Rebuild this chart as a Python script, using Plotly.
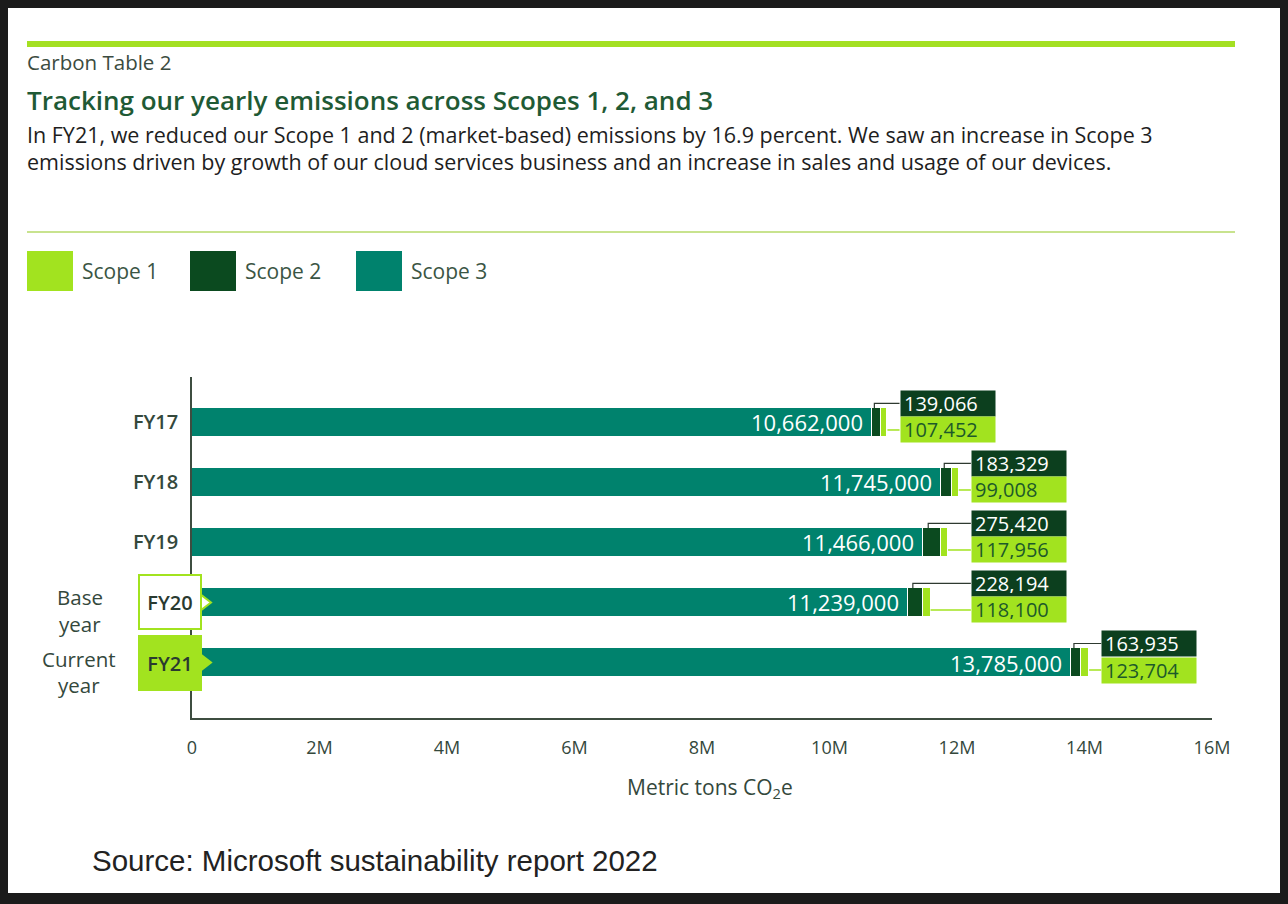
import plotly.graph_objects as go

# ---------------- data ----------------
years = ["FY17", "FY18", "FY19", "FY20", "FY21"]
scope1 = [107452, 99008, 117956, 118100, 123704]
scope2 = [139066, 183329, 275420, 228194, 163935]
scope3 = [10662000, 11745000, 11466000, 11239000, 13785000]
x_tick_vals = [0, 2e6, 4e6, 6e6, 8e6, 10e6, 12e6, 14e6, 16e6]
x_tick_text = ["0", "2M", "4M", "6M", "8M", "10M", "12M", "14M", "16M"]
legend_names = ["Scope 1", "Scope 2", "Scope 3"]

# ---------------- styling ----------------
W, H = 1288, 904
L, R, T, B = 192, 76, 377, 186
PW, PH = W - L - R, H - T - B
C1, C2, C3 = "#a2e31f", "#0b4a1f", "#00826d"
TXT = "#34483c"
FONT = "Open Sans"


def px(x):
    return (x - L) / PW


def py(y):
    return (H - B - y) / PH


rows = list(range(len(years)))
totals = [a + b + c for a, b, c in zip(scope1, scope2, scope3)]

# label x positions: rows whose totals are close share an aligned label column
GAP = 0.19e6
label_x = [0] * len(rows)
groups, cur = [], [0]
for i in rows[1:]:
    if abs(totals[i] - totals[i - 1]) < 0.5e6:
        cur.append(i)
    else:
        groups.append(cur)
        cur = [i]
groups.append(cur)
for g in groups:
    m = max(totals[i] for i in g) + GAP
    for i in g:
        label_x[i] = m

BAR_W = 0.483
UP = 0.317   # offset of scope-2 label centre above row centre
DN = 0.125   # offset of scope-1 label centre below row centre

fig = go.Figure()
for name, vals, col in [("Scope 3", scope3, C3), ("Scope 2", scope2, C2), ("Scope 1", scope1, C1)]:
    fig.add_trace(go.Bar(
        y=rows, x=vals, orientation="h", name=name, width=BAR_W,
        marker=dict(color=col, line=dict(color="white", width=1.2)),
        hoverinfo="x+name", showlegend=False,
    ))

# connectors
for i in rows:
    xv = scope3[i] + 0.3 * scope2[i]
    fig.add_trace(go.Scatter(
        x=[xv, xv, label_x[i]], y=[i - BAR_W / 2, i - UP, i - UP], mode="lines",
        line=dict(color="#2e3a30", width=1.2), showlegend=False, hoverinfo="skip",
    ))
    fig.add_trace(go.Scatter(
        x=[totals[i], label_x[i]], y=[i + DN, i + DN], mode="lines",
        line=dict(color=C1, width=1.5), showlegend=False, hoverinfo="skip",
    ))

# chevrons for base/current year
chev_x = 10 / PW * 16e6
fig.add_trace(go.Scatter(
    x=[chev_x, chev_x], y=[3, 4], mode="markers", cliponaxis=False,
    marker=dict(symbol="triangle-right", size=18, color=["white", C1],
                line=dict(color=C1, width=2)),
    showlegend=False, hoverinfo="skip",
))

ann = []
shapes = []

# page background
shapes.append(dict(type="rect", xref="paper", yref="paper", x0=px(8), x1=px(1280),
                   y0=py(893), y1=py(8), fillcolor="white", line=dict(width=0), layer="below"))
# header lines
shapes.append(dict(type="rect", xref="paper", yref="paper", x0=px(27), x1=px(1235),
                   y0=py(47), y1=py(41), fillcolor="#a4e022", line=dict(width=0)))
shapes.append(dict(type="line", xref="paper", yref="paper", x0=px(27), x1=px(1235),
                   y0=py(232), y1=py(232), line=dict(color="#c8e38e", width=2)))


def text(x, y, s, size, color=TXT, family=FONT, xanchor="left", weight=None):
    f = dict(family=family, size=size, color=color)
    if weight:
        f["weight"] = weight
    ann.append(dict(xref="paper", yref="paper", x=px(x), y=py(y), text=s, showarrow=False,
                    xanchor=xanchor, yanchor="middle", font=f))


text(25, 62, "Carbon Table 2", 20.5, "#3b4b40")
text(25, 100, "Tracking our yearly emissions across Scopes 1, 2, and 3", 26, "#1f5a35", weight=600)
text(25, 134, "In FY21, we reduced our Scope 1 and 2 (market-based) emissions by 16.9 percent. "
              "We saw an increase in Scope 3", 21.5, "#1e1e1e")
text(25, 162, "emissions driven by growth of our cloud services business and an increase "
              "in sales and usage of our devices.", 21.5, "#1e1e1e")

# legend
for (x0, name, col) in zip([27, 190, 356], legend_names, [C1, C2, C3]):
    shapes.append(dict(type="rect", xref="paper", yref="paper", x0=px(x0), x1=px(x0 + 46),
                       y0=py(291), y1=py(251), fillcolor=col, line=dict(width=0)))
    text(x0 + 53, 271, name, 21, "#3a5544")

# row side labels
text(80, 597, "Base", 20.5, TXT, xanchor="center")
text(80, 624, "year", 20.5, TXT, xanchor="center")
text(79, 659, "Current", 20.5, TXT, xanchor="center")
text(79, 685, "year", 20.5, TXT, xanchor="center")

# axis title
text(710, 788, "Metric tons CO<sub>2</sub>e", 21, TXT, xanchor="center")
# source
text(90, 860, "Source: Microsoft sustainability report 2022", 29.5, "#222222", family="Liberation Sans")

# boxed FY20 / FY21 labels
for i, bg in [(3, "white"), (4, C1)]:
    ann.append(dict(xref="x", yref="y", x=0, y=i, xanchor="right", yanchor="middle", xshift=10,
                    text=years[i], showarrow=False, bgcolor=bg, bordercolor=C1, borderwidth=2,
                    borderpad=2, width=56, height=48,
                    font=dict(family=FONT, size=20, color="#2a3a30", weight=600)))

# value labels
for i in rows:
    ann.append(dict(xref="x", yref="y", x=scope3[i], y=i, xanchor="right", yanchor="middle",
                    xshift=-7, text=f"{scope3[i]:,}", showarrow=False,
                    font=dict(family=FONT, size=22, color="white")))
    ann.append(dict(xref="x", yref="y", x=label_x[i], y=i - UP, xanchor="left", yanchor="middle",
                    text=f"{scope2[i]:,}", showarrow=False, bgcolor="#0c3f1e", borderpad=3,
                    width=88, height=19, align="left",
                    font=dict(family=FONT, size=20, color="white")))
    ann.append(dict(xref="x", yref="y", x=label_x[i], y=i + DN, xanchor="left", yanchor="middle",
                    text=f"{scope1[i]:,}", showarrow=False, bgcolor=C1, borderpad=3,
                    width=88, height=19, align="left",
                    font=dict(family=FONT, size=20, color="#1d5a2a")))

fig.update_layout(
    width=W, height=H, autosize=False,
    margin=dict(l=L, r=R, t=T, b=B, pad=0),
    paper_bgcolor="#1b1b1b", plot_bgcolor="rgba(0,0,0,0)",
    barmode="stack", bargap=0,
    showlegend=False,
    annotations=ann, shapes=shapes,
    xaxis=dict(range=[0, 16e6], tickvals=x_tick_vals, ticktext=x_tick_text,
               showgrid=False, zeroline=False, showline=True, linecolor="#3d4d40", linewidth=1.5,
               ticks="", ticklabelstandoff=13,
               tickfont=dict(family=FONT, size=18, color=TXT)),
    yaxis=dict(range=[4.925, -0.758], tickvals=[0, 1, 2], ticktext=years[:3],
               showgrid=False, zeroline=False, showline=True, linecolor="#3d4d40", linewidth=1.5,
               ticks="", ticklabelstandoff=8,
               tickfont=dict(family=FONT, size=20, color=TXT, weight=600)),
)

fig.write_html("out.html")
